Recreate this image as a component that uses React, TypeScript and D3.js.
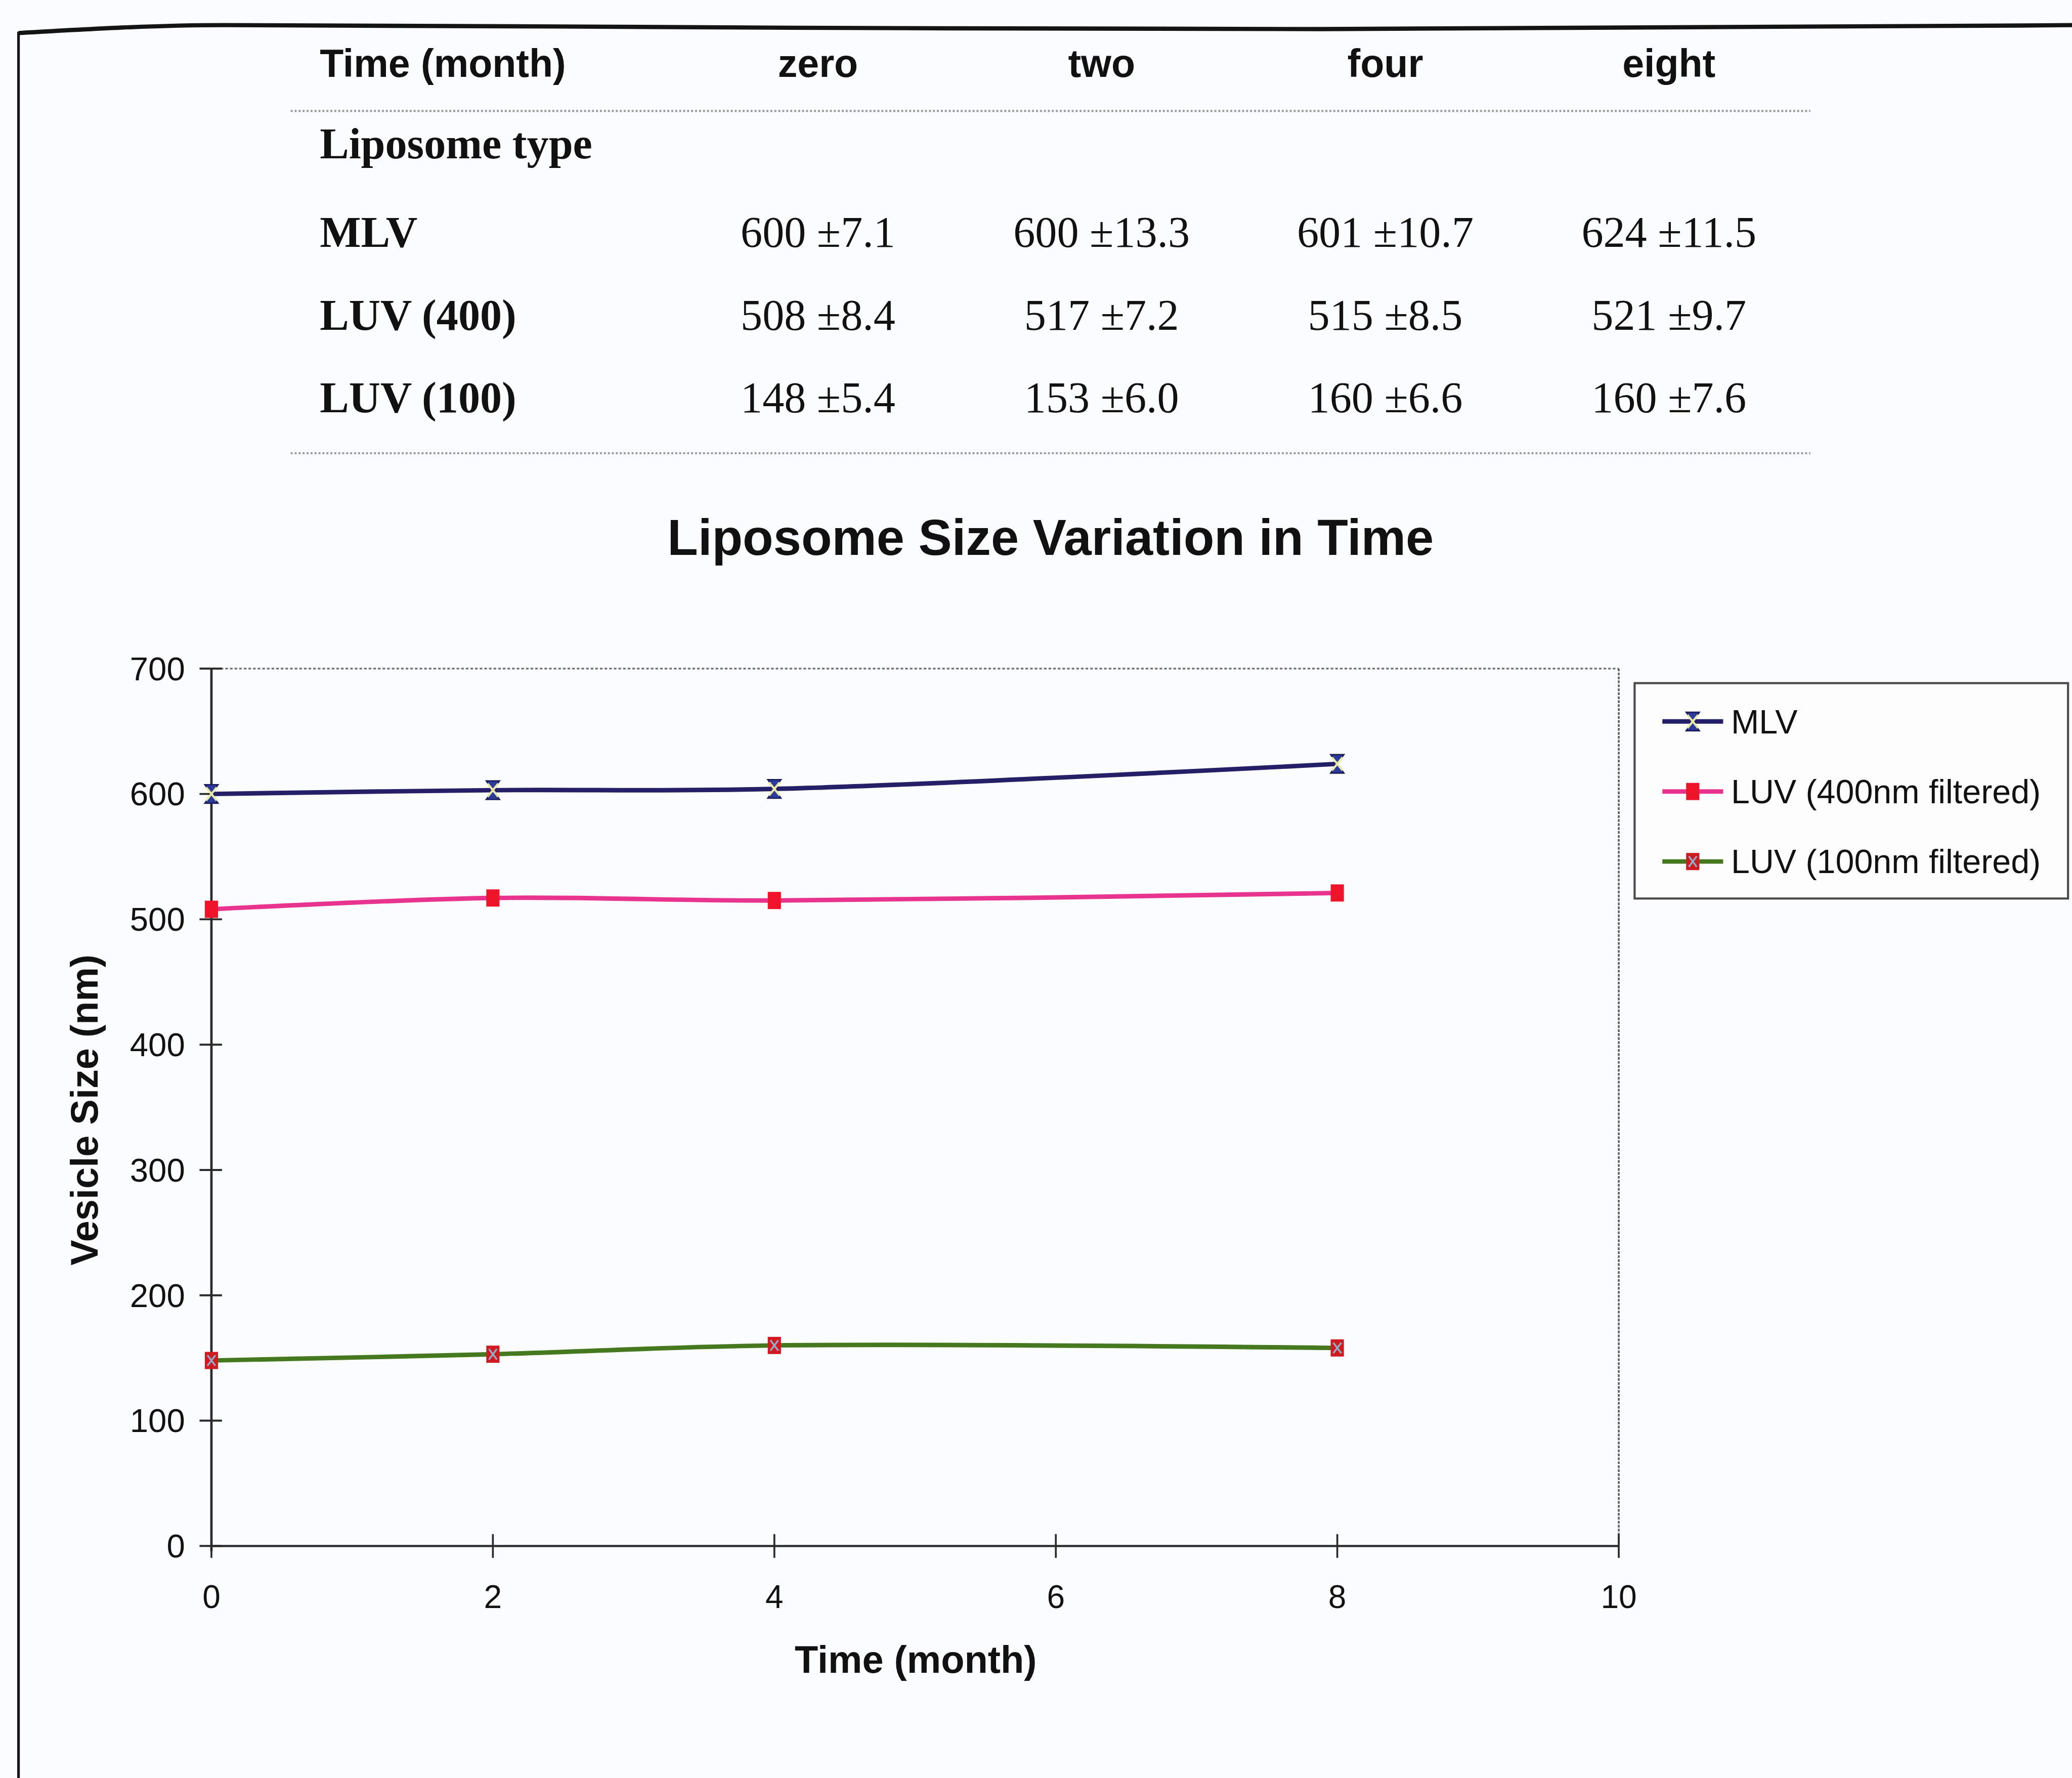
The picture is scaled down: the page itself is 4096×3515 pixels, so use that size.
import * as d3 from "d3";

// page is drawn in the coordinates of the shrunk reference (1568 wide), then scaled up
const W = 4096;
const H = 3515;
const K = 4096 / 1568;

const SANS = "'Liberation Sans', Arial, sans-serif";
const SERIF = "'Liberation Serif', 'Times New Roman', serif";

// table
const colLabels = ["zero", "two", "four", "eight"];
const rowLabels = ["MLV", "LUV (400)", "LUV (100)"];
const rowMeans = [
  [600, 600, 601, 624],
  [508, 517, 515, 521],
  [148, 153, 160, 160],
];
const rowSd = [
  ["7.1", "13.3", "10.7", "11.5"],
  ["8.4", "7.2", "8.5", "9.7"],
  ["5.4", "6.0", "6.6", "7.6"],
];

// chart
const months = [0, 2, 4, 8];
const mlv = [600, 603, 604, 624];
const luv400 = [508, 517, 515, 521];
const luv100 = [148, 153, 160, 158];
const seriesNames = ["MLV", "LUV (400nm filtered)", "LUV (100nm filtered)"];
const seriesColors = ["#241f66", "#e8348f", "#46791f"];
const xTicks = [0, 2, 4, 6, 8, 10];
const yTicks = [0, 100, 200, 300, 400, 500, 600, 700];

const Marker = ({ kind, x, y }: { kind: number; x: number; y: number }) => {
  if (kind === 0) {
    return (
      <g transform={`translate(${x},${y})`}>
        <path d="M-5,-7 L5,-7 L0,0 L5,7 L-5,7 L0,0 Z" fill="#2b3a9c" stroke="#1c1c5a" strokeWidth={1} />
        <path d="M-4,-5 L4,5 M4,-5 L-4,5" stroke="#e8e9a8" strokeWidth={1.6} />
      </g>
    );
  }
  if (kind === 1) {
    return <rect x={x - 5} y={y - 6.5} width={10} height={13} fill="#f0142a" />;
  }
  return (
    <g transform={`translate(${x},${y})`}>
      <rect x={-5} y={-6.5} width={10} height={13} fill="#d01a22" />
      <path d="M-3,-4 L3,4 M3,-4 L-3,4" stroke="#8fb0c8" strokeWidth={1.3} />
    </g>
  );
};

export default function App() {
  const colX = d3.scalePoint<string>().domain(colLabels).range([619, 1263]);
  const rowY = d3.scalePoint<string>().domain(rowLabels).range([187, 312]);

  const x = d3.scaleLinear().domain([0, 10]).range([160, 1225]);
  const y = d3.scaleLinear().domain([0, 700]).range([1170, 506]);

  const line = d3
    .line<number>()
    .x((_, i) => x(months[i]))
    .y((d) => y(d))
    .curve(d3.curveCatmullRom.alpha(0.5));

  const series = [mlv, luv400, luv100];

  const legendY = d3.scalePoint<string>().domain(seriesNames).range([546, 652]);

  const frameTop = d3.line().curve(d3.curveMonotoneX)([
    [14, 25],
    [170, 19],
    [600, 21],
    [1000, 22],
    [1568, 19],
  ]) as string;

  return (
    <svg
      width={W}
      height={H}
      viewBox={`0 0 ${W} ${H}`}
      style={{ position: "absolute", left: 0, top: 0, display: "block" }}
    >
      <rect width={W} height={H} fill="#fbfcfe" />
      <g transform={`scale(${K})`}>
        {/* page frame */}
        <path d={frameTop} fill="none" stroke="#141414" strokeWidth={3.2} />
        <line x1={14} x2={14} y1={24} y2={1346} stroke="#141414" strokeWidth={2} />

        {/* table */}
        <text x={242} y={58} fontFamily={SANS} fontWeight="bold" fontSize={29.5} fill="#111">
          Time (month)
        </text>
        {colLabels.map((c) => (
          <text key={c} x={colX(c)} y={58} textAnchor="middle" fontFamily={SANS} fontWeight="bold" fontSize={29.5} fill="#111">
            {c}
          </text>
        ))}
        <line x1={220} x2={1370} y1={84} y2={84} stroke="#9a9a9a" strokeWidth={1.6} strokeDasharray="1.5 1.5" />
        <text x={242} y={120} fontFamily={SERIF} fontWeight="bold" fontSize={33} fill="#111">
          Liposome type
        </text>
        {rowLabels.map((r, ri) => (
          <g key={r}>
            <text x={242} y={rowY(r)} fontFamily={SERIF} fontWeight="bold" fontSize={33} fill="#111">
              {r}
            </text>
            {colLabels.map((c, ci) => (
              <text key={c} x={colX(c)} y={rowY(r)} textAnchor="middle" fontFamily={SERIF} fontSize={33} fill="#111">
                {`${rowMeans[ri][ci]} \u00b1${rowSd[ri][ci]}`}
              </text>
            ))}
          </g>
        ))}
        <line x1={220} x2={1370} y1={343} y2={343} stroke="#9a9a9a" strokeWidth={1.6} strokeDasharray="1.5 1.5" />

        {/* chart title */}
        <text x={795} y={420} textAnchor="middle" fontFamily={SANS} fontWeight="bold" fontSize={38} fill="#111">
          Liposome Size Variation in Time
        </text>

        {/* plot frame */}
        <line x1={x(0)} x2={x(10)} y1={y(700)} y2={y(700)} stroke="#777" strokeWidth={1.3} strokeDasharray="2 1.5" />
        <line x1={x(10)} x2={x(10)} y1={y(700)} y2={y(0)} stroke="#555" strokeWidth={1.3} strokeDasharray="2 1" />

        {/* y axis */}
        <line x1={x(0)} x2={x(0)} y1={y(700)} y2={y(0) + 4} stroke="#2a2a2a" strokeWidth={1.8} />
        {yTicks.map((t) => (
          <g key={t}>
            <line x1={x(0) - 9} x2={x(0) + 8} y1={y(t)} y2={y(t)} stroke="#2a2a2a" strokeWidth={1.5} />
            <text x={140} y={y(t)} dy="0.35em" textAnchor="end" fontFamily={SANS} fontSize={25} fill="#111">
              {t}
            </text>
          </g>
        ))}

        {/* x axis */}
        <line x1={x(0)} x2={x(10)} y1={y(0)} y2={y(0)} stroke="#2a2a2a" strokeWidth={1.6} />
        {xTicks.map((t) => (
          <g key={t}>
            <line x1={x(t)} x2={x(t)} y1={y(0) - 9} y2={y(0) + 9} stroke="#2a2a2a" strokeWidth={1.4} />
            <text x={x(t)} y={1217} textAnchor="middle" fontFamily={SANS} fontSize={24.5} fill="#111">
              {t}
            </text>
          </g>
        ))}

        {/* axis titles */}
        <text x={693} y={1266} textAnchor="middle" fontFamily={SANS} fontWeight="bold" fontSize={29} fill="#111">
          Time (month)
        </text>
        <text
          transform={`translate(74,840) rotate(-90)`}
          textAnchor="middle"
          fontFamily={SANS}
          fontWeight="bold"
          fontSize={29}
          fill="#111"
        >
          Vesicle Size (nm)
        </text>

        {/* series */}
        {series.map((s, si) => (
          <g key={seriesNames[si]}>
            <path d={line(s) as string} fill="none" stroke={seriesColors[si]} strokeWidth={3.4} />
            {s.map((v, i) => (
              <Marker key={i} kind={si} x={x(months[i])} y={y(v)} />
            ))}
          </g>
        ))}

        {/* legend */}
        <rect x={1237} y={517} width={328} height={163} fill="#fdfdfe" stroke="#4a4a4a" strokeWidth={1.6} />
        {seriesNames.map((n, i) => (
          <g key={n}>
            <line x1={1258} x2={1304} y1={legendY(n)} y2={legendY(n)} stroke={seriesColors[i]} strokeWidth={3.4} />
            <Marker kind={i} x={1281} y={legendY(n) as number} />
            <text x={1310} y={legendY(n)} dy="0.35em" fontFamily={SANS} fontSize={25.4} fill="#111">
              {n}
            </text>
          </g>
        ))}
      </g>
    </svg>
  );
}
